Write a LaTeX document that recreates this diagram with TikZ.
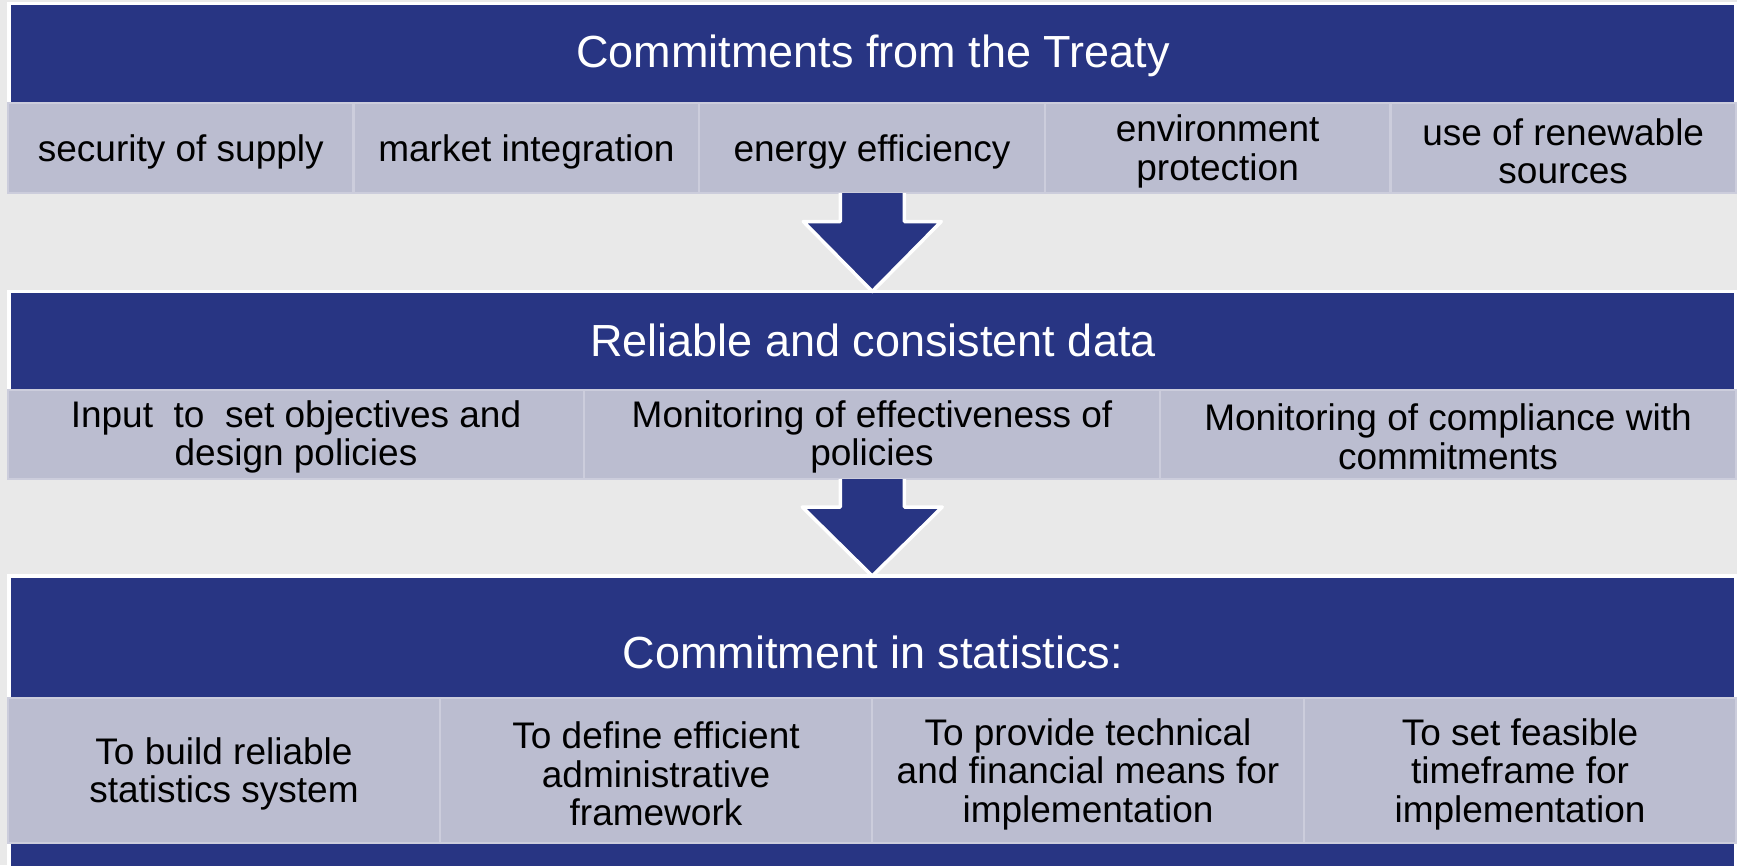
\documentclass[tikz,border=0pt]{standalone}
\usepackage{fontspec}
\setmainfont{Liberation Sans}
\usetikzlibrary{calc}
\definecolor{navy}{RGB}{40,53,131}
\definecolor{cellgray}{RGB}{187,189,208}
\definecolor{cellline}{RGB}{204,205,220}
\definecolor{bggray}{RGB}{233,233,233}
\tikzset{
  panel/.style={rectangle, fill=navy, draw=white, line width=3.5pt, outer sep=0pt, inner sep=0pt},
  cell/.style={rectangle, fill=cellgray, draw=cellline, line width=2.5pt, outer sep=0pt, inner sep=0pt},
  celltext/.style={align=center, text=black, inner sep=0pt, font=\fontsize{37}{38.5}\selectfont},
  title/.style={text=white, font=\fontsize{45}{54}\selectfont, inner sep=0pt},
  blockarrow/.style={fill=navy, draw=white, line width=3.5pt, line join=round}
}
\begin{document}
\begin{tikzpicture}[x=1pt,y=-1pt]
\useasboundingbox (0,0) rectangle (1737,865);
\clip (0,0) rectangle (1737,865);
\fill[bggray] (0,0) rectangle (1737,865);

% panels
\node[panel, minimum width=1726.5, minimum height=100.5] (p1) at (872.25,53.75) {};
\node[panel, minimum width=1726.5, minimum height=99.5] (p2) at (872.25,341.25) {};
\node[panel, minimum width=1726.5, minimum height=324] (p3) at (872.25,738) {};

% titles
\node[title] (t1) at (873,56) {Commitments from the Treaty};
\node[title] (t2) at (873,340.5) {Reliable and consistent data};
\node[title] (t3) at (873,652.5) {Commitment in statistics:};

% row 1
\tikzset{r1/.style={cell, minimum width=345.6, minimum height=90}}
\node[r1] (c11) at (180.8,148) {};
\node[r1] (c12) at (526.4,148) {};
\node[r1] (c13) at (872,148) {};
\node[r1] (c14) at (1217.6,148) {};
\node[r1] (c15) at (1563.2,148) {};
\node[celltext] (c11t) at ($(c11)+(0,3.5)$) {security of supply};
\node[celltext] (c12t) at ($(c12)+(0,3.5)$) {market integration};
\node[celltext] (c13t) at ($(c13)+(0,3.5)$) {energy efficiency};
\node[celltext] (c14t) at ($(c14)+(0,3.5)$) {environment\\protection};
\node[celltext] (c15t) at ($(c15)+(0,3.5)$) {use of renewable\\sources};

% row 2
\tikzset{r2/.style={cell, minimum width=576, minimum height=89}}
\node[r2] (c21) at (296,434.5) {};
\node[r2] (c22) at (872,434.5) {};
\node[r2] (c23) at (1448,434.5) {};
\node[celltext] (c21t) at ($(c21)+(0,2.5)$) {Input\ \ to\ \ set objectives and\\design policies};
\node[celltext] (c22t) at ($(c22)+(0,2.5)$) {Monitoring of effectiveness of\\policies};
\node[celltext] (c23t) at ($(c23)+(0,2.5)$) {Monitoring of compliance with\\commitments};

% row 3
\tikzset{r3/.style={cell, minimum width=432, minimum height=145}}
\node[r3] (c31) at (224,770.5) {};
\node[r3] (c32) at (656,770.5) {};
\node[r3] (c33) at (1088,770.5) {};
\node[r3] (c34) at (1520,770.5) {};
\node[celltext] (c31t) at ($(c31)+(0,3.5)$) {To build reliable\\statistics system};
\node[celltext] (c32t) at ($(c32)+(0,3.5)$) {To define efficient\\administrative\\framework};
\node[celltext] (c33t) at ($(c33)+(0,3.5)$) {To provide technical\\and financial means for\\implementation};
\node[celltext] (c34t) at ($(c34)+(0,3.5)$) {To set feasible\\timeframe for\\implementation};

% arrows
\coordinate (a1s) at (c13.south);
\coordinate (a1t) at (p2.north);
\filldraw[blockarrow] ($(a1t |- a1s)+(-32,0)$) -- ($(a1t)+(-32,-70)$) -- ($(a1t)+(-69,-70)$) -- (a1t)
  -- ($(a1t)+(69,-70)$) -- ($(a1t)+(32,-70)$) -- ($(a1t |- a1s)+(32,0)$);
\coordinate (a2s) at (c22.south);
\coordinate (a2t) at (p3.north);
\filldraw[blockarrow] ($(a2t |- a2s)+(-32,0)$) -- ($(a2t)+(-32,-69)$) -- ($(a2t)+(-70,-69)$) -- (a2t)
  -- ($(a2t)+(70,-69)$) -- ($(a2t)+(32,-69)$) -- ($(a2t |- a2s)+(32,0)$);
\end{tikzpicture}
\end{document}
